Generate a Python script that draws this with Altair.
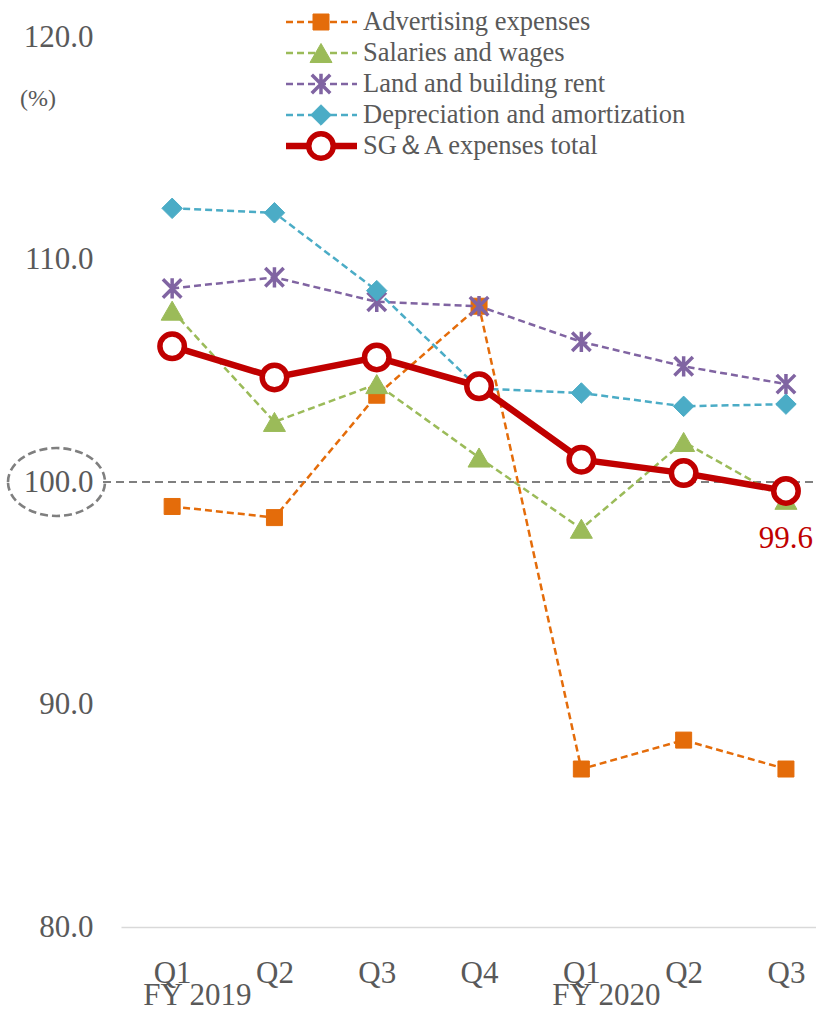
import json

import altair as alt
import pandas as pd

# ---- data -------------------------------------------------------------
quarters = ["Q1", "Q2", "Q3", "Q4", "Q1", "Q2", "Q3"]
fiscal_years = ["FY 2019", "FY 2020"]
fiscal_year_first_quarter = [0, 4]

advertising = [98.9, 98.4, 103.9, 107.9, 87.1, 88.4, 87.1]
salaries = [107.7, 102.7, 104.4, 101.1, 97.9, 101.8, 99.2]
land_rent = [108.7, 109.2, 108.1, 107.9, 106.3, 105.2, 104.4]
depreciation = [112.3, 112.1, 108.6, 104.2, 104.0, 103.4, 103.5]
sga_total = [106.1, 104.7, 105.6, 104.3, 101.0, 100.4, 99.6]

series_names = [
    "Advertising expenses",
    "Salaries and wages",
    "Land and building rent",
    "Depreciation and amortization",
    "SG＆A expenses total",
]
series_values = [advertising, salaries, land_rent, depreciation, sga_total]
series_colors = ["#E46C0A", "#9BBB59", "#8064A2", "#4BACC6", "#C00000"]

y_ticks = [80, 90, 100, 110, 120]
baseline_level = [100]

# ---- styling ----------------------------------------------------------
FONT = "Liberation Serif"
TEXT_GREY = "#595959"
PLOT_LEFT, PLOT_TOP = 121, 37
W, H = 816 - PLOT_LEFT, 890
STEP = 102.3  # pixel distance between quarters

ASTERISK = "M-1,-1L1,1M-1,1L1,-1M0,-1.1L0,1.1"
ELLIPSE = "M-1,0A1,0.7 0 1,1 1,0A1,0.7 0 1,1 -1,0Z"

marker_styles = [
    dict(shape="square", size=256, filled=True),
    dict(shape="triangle-up", size=484, filled=True),
    dict(shape=ASTERISK, size=340, filled=False, strokeWidth=3.5),
    dict(shape="diamond", size=420, filled=True),
    dict(shape="circle", size=600, filled=True, fill="white", strokeWidth=5.5),
]

x_scale = alt.Scale(domain=[-0.5, -0.5 + W / STEP], nice=False, zero=False)
y_scale = alt.Scale(domain=[80, 120], nice=False, zero=False)

label_expr = json.dumps(quarters) + "[datum.value]"
x_axis = alt.Axis(
    values=list(range(len(quarters))), labelExpr=label_expr, title=None,
    grid=False, ticks=False, tickSize=0, domainColor="#D9D9D9", domainWidth=1.6,
    labelFont=FONT, labelFontSize=31, labelColor=TEXT_GREY, labelPadding=31,
    labelFlush=False, labelOverlap=False,
)
y_axis = alt.Axis(
    values=y_ticks, format=".1f", title=None, grid=False, ticks=False, tickSize=0,
    domain=False, labelFont=FONT, labelFontSize=31, labelColor=TEXT_GREY,
    labelPadding=28, labelFlush=False, labelOverlap=False,
)

rows = []
for name, vals in zip(series_names, series_values):
    for i, v in enumerate(vals):
        rows.append({"series": name, "idx": i, "value": v})
df = pd.DataFrame(rows)

layers = []

# dashed 100% reference line and the ellipse round its label
ref_df = pd.DataFrame({"level": baseline_level})
layers.append(
    alt.Chart(ref_df).mark_rule(color="#7F7F7F", strokeWidth=2.2, strokeDash=[8, 5]).encode(
        x=alt.value(103 - PLOT_LEFT), x2=alt.value(W),
        y=alt.Y("level:Q", scale=y_scale, axis=y_axis),
    )
)
layers.append(
    alt.Chart(ref_df).mark_point(
        shape=ELLIPSE, size=97 ** 2, filled=False, stroke="#7F7F7F",
        strokeWidth=2.6, strokeDash=[8, 4], opacity=1,
    ).encode(
        x=alt.value(56.5 - PLOT_LEFT),
        y=alt.Y("level:Q", scale=y_scale, axis=y_axis),
    )
)

# series: line then markers, drawn in series order
for k, (name, color, style) in enumerate(zip(series_names, series_colors, marker_styles)):
    d = df[df.series == name]
    total = k == len(series_names) - 1
    base = alt.Chart(d).encode(
        x=alt.X("idx:Q", scale=x_scale, axis=x_axis),
        y=alt.Y("value:Q", scale=y_scale, axis=y_axis),
    )
    line_kw = dict(color=color, strokeWidth=6.5 if total else 2.5)
    if not total:
        line_kw["strokeDash"] = [7, 4]
    layers.append(base.mark_line(**line_kw))
    pt_kw = dict(style)
    pt_kw.setdefault("strokeWidth", 1)
    pt_kw["stroke"] = color
    if "fill" not in pt_kw and pt_kw["filled"]:
        pt_kw["fill"] = color
    layers.append(base.mark_point(opacity=1, **pt_kw))

# value label on the last total point
layers.append(
    alt.Chart(df[df.series == series_names[-1]]).transform_filter(
        f"datum.idx == {len(quarters) - 1}"
    ).mark_text(
        font=FONT, fontSize=31, color="#C00000", baseline="alphabetic", dy=57,
    ).encode(
        x=alt.X("idx:Q", scale=x_scale, axis=x_axis),
        y=alt.Y("value:Q", scale=y_scale, axis=y_axis),
        text=alt.Text("value:Q", format=".1f"),
    )
)

# fiscal-year labels below the quarter labels
fy_df = pd.DataFrame({"label": fiscal_years, "idx": fiscal_year_first_quarter})
layers.append(
    alt.Chart(fy_df).mark_text(
        font=FONT, fontSize=31, color=TEXT_GREY, align="left", baseline="alphabetic", dx=-29,
    ).encode(
        x=alt.X("idx:Q", scale=x_scale, axis=x_axis),
        y=alt.value(1005 - PLOT_TOP),
        text="label:N",
    )
)

# unit label
layers.append(
    alt.Chart(pd.DataFrame({"u": ["(%)"]})).mark_text(
        font=FONT, fontSize=24, color=TEXT_GREY, baseline="middle",
    ).encode(x=alt.value(38 - PLOT_LEFT), y=alt.value(99 - PLOT_TOP), text="u:N")
)

# legend drawn as rows above the plot
LEG_Y0, LEG_DY = 22 - PLOT_TOP, 31
for k, (name, color, style) in enumerate(zip(series_names, series_colors, marker_styles)):
    total = k == len(series_names) - 1
    leg = alt.Chart(pd.DataFrame({"label": [name]}))
    ly = LEG_Y0 + LEG_DY * k
    rule_kw = dict(color=color, strokeWidth=6.5 if total else 2.5)
    if not total:
        rule_kw["strokeDash"] = [7, 4]
    layers.append(
        leg.mark_rule(**rule_kw).encode(
            x=alt.value(286 - PLOT_LEFT), x2=alt.value(357 - PLOT_LEFT), y=alt.value(ly)
        )
    )
    pt_kw = dict(style)
    pt_kw.setdefault("strokeWidth", 1)
    pt_kw["stroke"] = color
    if "fill" not in pt_kw and pt_kw["filled"]:
        pt_kw["fill"] = color
    layers.append(
        leg.mark_point(opacity=1, **pt_kw).encode(
            x=alt.value(321 - PLOT_LEFT), y=alt.value(ly)
        )
    )
    layers.append(
        leg.mark_text(
            font=FONT, fontSize=26.5, color=TEXT_GREY, align="left", baseline="middle",
        ).encode(x=alt.value(363 - PLOT_LEFT), y=alt.value(ly), text="label:N")
    )

chart = alt.layer(*layers).properties(
    width=W,
    height=H,
    padding={"left": PLOT_LEFT, "top": PLOT_TOP, "right": 0, "bottom": 1010 - PLOT_TOP - H},
    autosize=alt.AutoSizeParams(type="none"),
    background="white",
).configure_view(stroke=None)

chart.save("out.html", embed_options={"renderer": "svg", "actions": False})
